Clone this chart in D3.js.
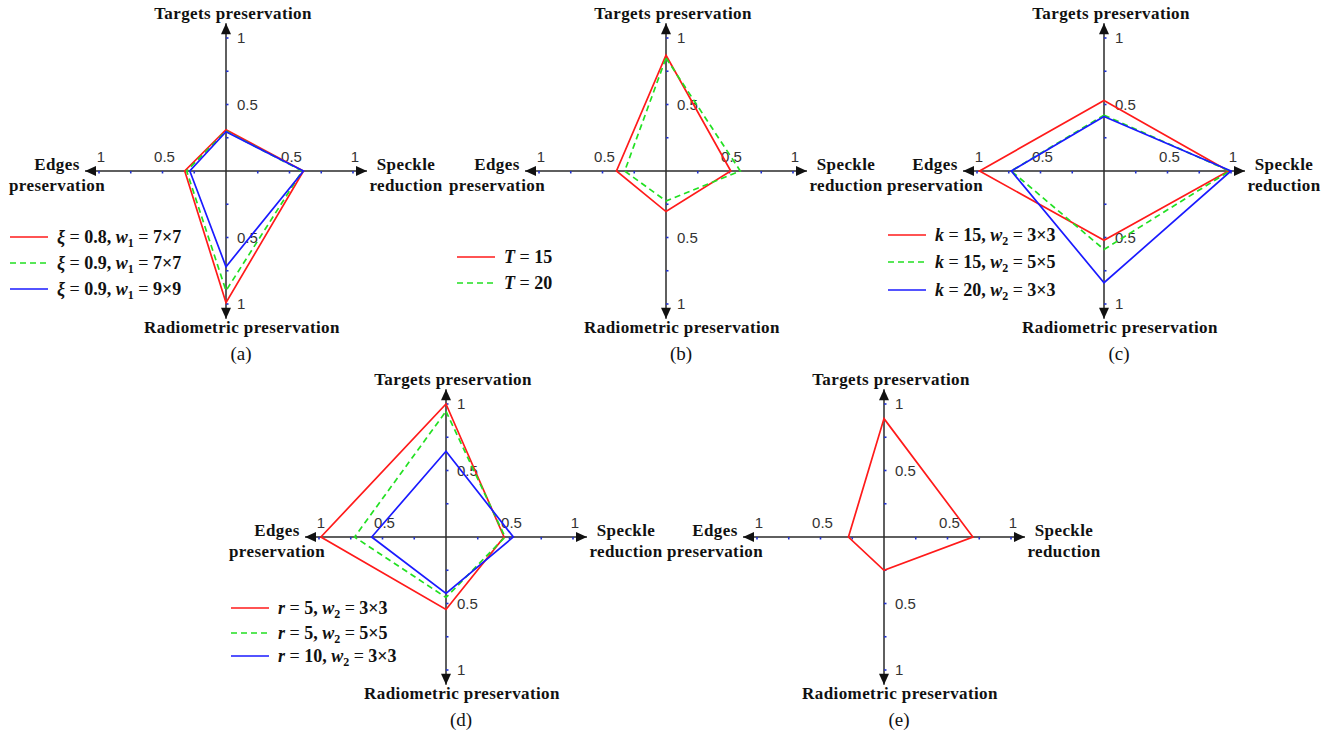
<!DOCTYPE html>
<html>
<head>
<meta charset="utf-8">
<script src="https://cdn.jsdelivr.net/npm/d3@7"></script>
<style>
  html, body { margin: 0; padding: 0; background: #fff; }
  svg { display: block; }
</style>
</head>
<body>
<svg id="chart" width="1341" height="735"></svg>
<script>
// Four evaluation axes, clockwise from the top
const axisNames = ["Targets preservation", "Speckle reduction", "Radiometric preservation", "Edges preservation"];
const tickValues = [0.25, 0.5, 0.75, 1];
const tickLabels = ["0.5", "1"];

// (a) ξ and w1
const seriesA = ["xi=0.8,w1=7x7", "xi=0.9,w1=7x7", "xi=0.9,w1=9x9"];
const valuesA = [
  [0.31, 0.61, 0.99, 0.325],
  [0.30, 0.60, 0.90, 0.31],
  [0.295, 0.61, 0.72, 0.285]
];
// (b) T
const seriesB = ["T=15", "T=20"];
const valuesB = [
  [0.87, 0.51, 0.305, 0.39],
  [0.85, 0.585, 0.225, 0.325]
];
// (c) k and w2
const seriesC = ["k=15,w2=3x3", "k=15,w2=5x5", "k=20,w2=3x3"];
const valuesC = [
  [0.53, 0.98, 0.52, 0.98],
  [0.42, 0.99, 0.59, 0.73],
  [0.41, 1.0, 0.84, 0.73]
];
// (d) r and w2
const seriesD = ["r=5,w2=3x3", "r=5,w2=5x5", "r=10,w2=3x3"];
const valuesD = [
  [1.0, 0.457, 0.545, 0.985],
  [0.945, 0.465, 0.455, 0.72],
  [0.645, 0.53, 0.425, 0.585]
];
// (e) single result
const seriesE = ["result"];
const valuesE = [
  [0.89, 0.70, 0.25, 0.28]
];

// Legend entries: [symbol, first value, subscript index, window]
const legendA = [["ξ", "0.8", "1", "7×7"], ["ξ", "0.9", "1", "7×7"], ["ξ", "0.9", "1", "9×9"]];
const legendB = [["T", "15"], ["T", "20"]];
const legendC = [["k", "15", "2", "3×3"], ["k", "15", "2", "5×5"], ["k", "20", "2", "3×3"]];
const legendD = [["r", "5", "2", "3×3"], ["r", "5", "2", "5×5"], ["r", "10", "2", "3×3"]];

const styles = [
  { color: "#ff1a1a", dash: null },
  { color: "#22e022", dash: "6,4" },
  { color: "#1a1aff", dash: null }
];

const panels = [
  { tag: "(a)", cx: 226, cy: 171, values: valuesA, names: seriesA, legend: legendA, lx: -216, ly: [66, 92, 118] },
  { tag: "(b)", cx: 666, cy: 171, values: valuesB, names: seriesB, legend: legendB, lx: -209, ly: [86, 112] },
  { tag: "(c)", cx: 1104, cy: 171, values: valuesC, names: seriesC, legend: legendC, lx: -216, ly: [64, 91, 119] },
  { tag: "(d)", cx: 446, cy: 537, values: valuesD, names: seriesD, legend: legendD, lx: -215, ly: [71, 96, 119] },
  { tag: "(e)", cx: 884, cy: 537, values: valuesE, names: seriesE, legend: null, lx: 0, ly: [] }
];

const svg = d3.select("#chart");
const serif = "Liberation Serif, Times New Roman, serif";
const sans = "Liberation Sans, Arial, sans-serif";

// radial scales: horizontal and vertical units differ slightly
const rx = d3.scaleLinear().domain([0, 1]).range([0, 127]);
const ry = d3.scaleLinear().domain([0, 1]).range([0, 133]);
const axisExtent = 1.11;

// direction vectors for the four axes: up, right, down, left
const dirs = [[0, -1], [1, 0], [0, 1], [-1, 0]];
function pt(i, v) {
  return [dirs[i][0] * rx(v), dirs[i][1] * ry(v)];
}

panels.forEach(p => {
  const g = svg.append("g").attr("transform", `translate(${p.cx},${p.cy})`);

  // axes with arrowheads
  dirs.forEach((d, i) => {
    const [ex, ey] = pt(i, axisExtent);
    g.append("line")
      .attr("x1", 0).attr("y1", 0)
      .attr("x2", ex).attr("y2", ey)
      .attr("stroke", "#2a2a2a").attr("stroke-width", 1.5);
    const len = 11, hw = 5;
    const bx = ex - d[0] * len, by = ey - d[1] * len;
    const px = -d[1], py = d[0];
    g.append("path")
      .attr("d", `M${ex},${ey}L${bx + px * hw},${by + py * hw}L${bx - px * hw},${by - py * hw}Z`)
      .attr("fill", "#111");

    // tick marks
    tickValues.forEach(t => {
      const [tx, ty] = pt(i, t);
      const ox = d[0] === 0 ? 1 : 0, oy = d[0] === 0 ? 0 : 1;
      g.append("line")
        .attr("x1", tx).attr("y1", ty)
        .attr("x2", tx + ox * 2.5).attr("y2", ty + oy * 2.5)
        .attr("stroke", "#2233cc").attr("stroke-width", 1.6);
    });

    // tick labels
    [0.5, 1].forEach((t, k) => {
      const [tx, ty] = pt(i, t);
      const txt = g.append("text")
        .attr("font-family", sans).attr("font-size", 15).attr("fill", "#333")
        .text(tickLabels[k]);
      if (d[0] === 0) {
        txt.attr("x", tx + 11).attr("y", ty + 5).attr("text-anchor", "start");
      } else {
        txt.attr("x", tx + 2).attr("y", ty - 9).attr("text-anchor", "middle");
      }
    });
  });

  // axis titles
  const title = (x, y, s) => g.append("text")
    .attr("x", x).attr("y", y)
    .attr("text-anchor", "middle")
    .attr("font-family", serif).attr("font-weight", "bold").attr("font-size", 17)
    .attr("letter-spacing", 0.4)
    .attr("fill", "#111").text(s);
  title(7, -152, axisNames[0]);
  const sp = axisNames[1].split(" ");
  title(180, -1, sp[0]);
  title(180, 20, sp[1]);
  title(16, 162, axisNames[2]);
  const ed = axisNames[3].split(" ");
  title(-169, -1, ed[0]);
  title(-169, 20, ed[1]);

  // panel tag
  g.append("text")
    .attr("x", 15).attr("y", 189)
    .attr("text-anchor", "middle")
    .attr("font-family", serif).attr("font-size", 19)
    .attr("fill", "#111").text(p.tag);

  // data polygons
  const line = d3.line().curve(d3.curveLinearClosed);
  p.values.forEach((vals, si) => {
    const st = styles[si];
    g.append("path")
      .datum(vals.map((v, i) => pt(i, v)))
      .attr("class", "series")
      .attr("data-name", p.names[si])
      .attr("d", line)
      .attr("fill", "none")
      .attr("stroke", st.color)
      .attr("stroke-width", 1.7)
      .attr("stroke-dasharray", st.dash);
  });

  // legend
  if (p.legend) {
    p.legend.forEach((e, si) => {
      const st = styles[si];
      const y = p.ly[si];
      g.append("line")
        .attr("x1", p.lx).attr("x2", p.lx + 38)
        .attr("y1", y).attr("y2", y)
        .attr("stroke", st.color).attr("stroke-width", 1.7)
        .attr("stroke-dasharray", st.dash);
      const t = g.append("text")
        .attr("x", p.lx + 47).attr("y", y + 6)
        .attr("font-family", serif).attr("font-size", 18)
        .attr("fill", "#111");
      t.append("tspan").attr("font-style", "italic").attr("font-weight", "bold").text(e[0]);
      t.append("tspan").text(" = ");
      if (e.length === 2) {
        t.append("tspan").attr("font-weight", "bold").text(e[1]);
      } else {
        t.append("tspan").attr("font-weight", "bold").text(e[1] + ", ");
        t.append("tspan").attr("font-style", "italic").attr("font-weight", "bold").text("w");
        t.append("tspan").attr("font-weight", "bold").attr("font-size", 12).attr("dy", 4).text(e[2]);
        t.append("tspan").attr("dy", -4).text(" = ");
        t.append("tspan").attr("font-weight", "bold").text(e[3]);
      }
    });
  }
});
</script>
</body>
</html>
